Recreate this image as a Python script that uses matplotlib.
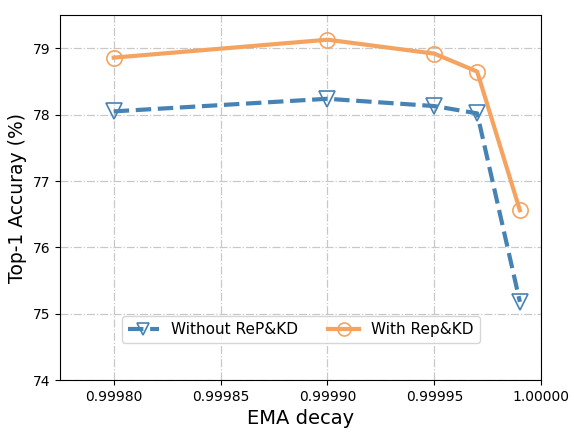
import matplotlib
matplotlib.use("Agg")
import matplotlib.pyplot as plt

ema = [0.9998, 0.9999, 0.99995, 0.99997, 0.99999]
without_kd = [78.05, 78.24, 78.13, 78.02, 75.18]
with_kd = [78.86, 79.13, 78.92, 78.65, 76.56]

fig, ax = plt.subplots(figsize=(5.74, 4.33), dpi=100)
ax.plot(ema, without_kd, color='steelblue', ls='--', lw=3, marker='v',
        ms=11, mfc='none', mew=1.2, label='Without ReP&KD')
ax.plot(ema, with_kd, color='sandybrown', ls='-', lw=3, marker='o',
        ms=11, mfc='none', mew=1.2, label='With Rep&KD')

ax.set_xlim(0.999775, 1.0)
ax.set_ylim(74, 79.5)
ax.set_xticks([0.9998, 0.99985, 0.9999, 0.99995, 1.0])
ax.set_xticklabels(['0.99980', '0.99985', '0.99990', '0.99995', '1.00000'])
ax.grid(True, ls='-.', color='#c8c8c8', lw=0.9)
ax.set_xlabel('EMA decay', fontsize=14)
ax.set_ylabel('Top-1 Accuray (%)', fontsize=13.5)
ax.legend(loc='lower center', bbox_to_anchor=(0.5, 0.08), ncol=2, fontsize=11,
          markerscale=0.85, handlelength=2.0, columnspacing=2.0)

fig.subplots_adjust(left=0.105, right=0.943, top=0.965, bottom=0.122)
fig.savefig('out.png')
